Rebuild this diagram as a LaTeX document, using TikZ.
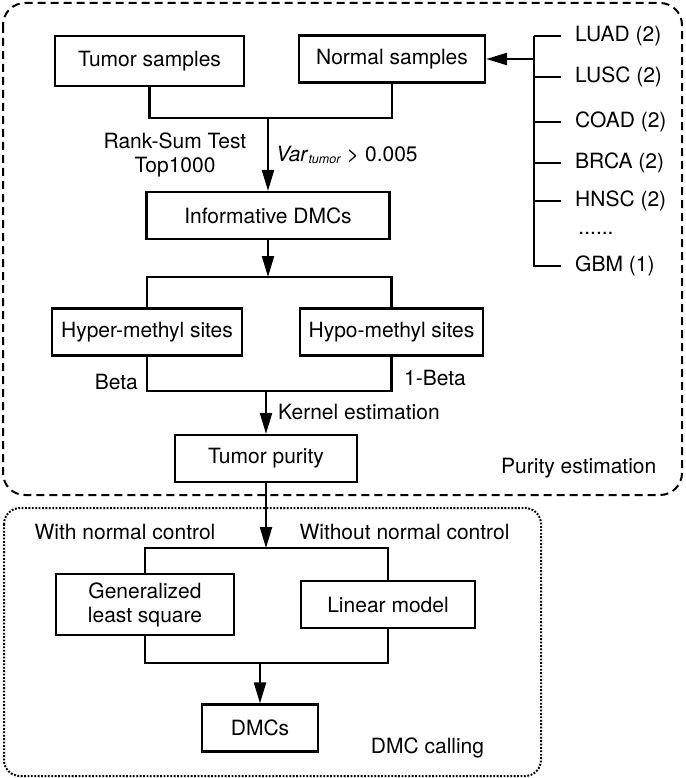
\documentclass[tikz,border=0pt]{standalone}
\usepackage{fontspec}
\setmainfont{TeX Gyre Heros}
\usetikzlibrary{arrows.meta}

\begin{document}
\begin{tikzpicture}[
    x=1pt, y=-1pt,
    font=\fontsize{21}{24}\selectfont,
    >={Triangle[length=21pt,width=12pt]},
    box/.style={draw, line width=2.2pt, minimum height=47pt, inner sep=2pt},
    lbl/.style={inner sep=0pt},
    tick/.style={anchor=west, inner xsep=14pt, inner ysep=0pt},
    link/.style={line width=2.2pt},
    every node/.style={align=center}]

\useasboundingbox (0,0) rectangle (685,778);

% the two frames
\draw[line width=2pt, dash pattern=on 8pt off 5pt, rounded corners=22pt]
    (3,3) rectangle (682,495);
\draw[line width=2pt, dash pattern=on 1.8pt off 1.6pt, rounded corners=16pt]
    (4,508) rectangle (541,776);

% purity estimation
\node[box, minimum width=189pt, minimum height=50pt] (tumor) at (149.5,61) {Tumor samples};
\node[box, minimum width=186pt] (normal) at (392,59) {Normal samples};
\node[box, minimum width=243pt] (informative) at (268,215.5) {Informative DMCs};
\node[box, minimum width=190pt] (hyper) at (147,332) {Hyper-methyl sites};
\node[box, minimum width=183pt] (hypo) at (391.5,332) {Hypo-methyl sites};
\node[box, minimum width=182pt] (purity) at (266,458.5) {Tumor purity};

% DMC calling
\node[box, minimum width=178pt, minimum height=61pt] (gls) at (145,604.5) {Generalized\\least square};
\node[box, minimum width=174pt] (linear) at (388,604.5) {Linear model};
\node[box, minimum width=116pt] (dmcs) at (260,728) {DMCs};

% cancer types
\coordinate (brk) at (534,0);
\node[tick] (luad) at (561,36) {LUAD (2)};
\node[tick] (lusc) at (561,77) {LUSC (2)};
\node[tick] (coad) at (561,122) {COAD (2)};
\node[tick] (brca) at (561,163) {BRCA (2)};
\node[tick] (hnsc) at (561,201) {HNSC (2)};
\node[lbl] (dots) at (596,233) {......};
\node[tick] (gbm) at (561,266) {GBM (1)};

\draw[link] (brk |- luad) -- (brk |- gbm) -- (gbm.west);
\foreach \t in {luad, lusc, coad, brca, hnsc}
    \draw[link] (brk |- \t) -- (\t.west);
\draw[link, ->] (brk |- normal) -- (normal.east);

% junctions
\coordinate (j1) at (informative.north |- 0,118);
\coordinate (j2) at (informative.south |- 0,277);
\coordinate (j3) at (purity.north |- 0,391);
\coordinate (j4) at (purity.south |- 0,548);
\coordinate (j5) at (dmcs.north |- 0,663);

\draw[link] (tumor.south) |- (j1) -| (normal.south);
\draw[link, ->] (j1) -- (informative.north);
\draw[link, ->] (informative.south) -- (j2);
\draw[link] (hyper.north) |- (j2) -| (hypo.north);
\draw[link] (hyper.south) |- (j3) -| (hypo.south);
\draw[link, ->] (j3) -- (purity.north);
\draw[link, ->] (purity.south) -- (j4);
\draw[link] (gls.north) |- (j4) -| (linear.north);
\draw[link] (gls.south) |- (j5) -| (linear.south);
\draw[link, ->] (j5) -- (dmcs.north);

% labels
\node[lbl] (rank) at (175,155) {Rank-Sum Test\\Top1000};
\node[lbl, anchor=west] (var) at (276,155)
    {\textit{Var}\raisebox{-2pt}{\fontsize{12.5}{12}\selectfont\textit{tumor}} > 0.005};
\node[lbl, anchor=east] (beta) at (138,382) {Beta};
\node[lbl, anchor=west] (onebeta) at (404,378) {1-Beta};
\node[lbl, anchor=west] (kernel) at (278,412) {Kernel estimation};
\node[lbl, anchor=west] (purest) at (501,468) {Purity estimation};
\node[lbl] (withctl) at (125,532) {With normal control};
\node[lbl] (withoutctl) at (404.5,532) {Without normal control};
\node[lbl] (calling) at (427.5,748) {DMC calling};
\end{tikzpicture}
\end{document}
